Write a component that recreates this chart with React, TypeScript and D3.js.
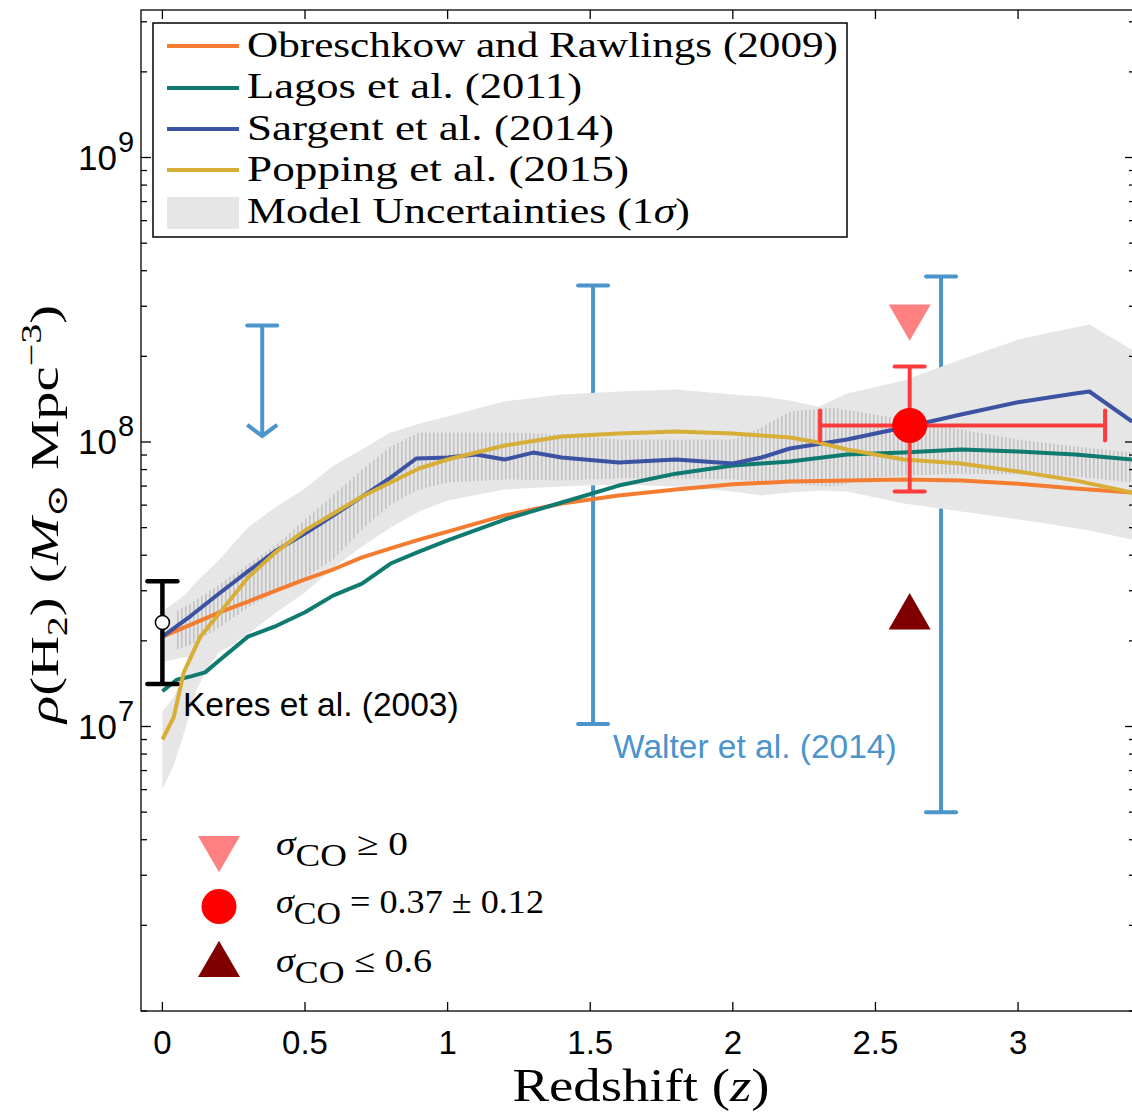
import React, { useEffect, useRef } from "react";
import * as d3 from "d3";

// model curves: redshift and rho(H2) in Msun / Mpc^3
const zObreschkow = [0, 0.1, 0.2, 0.3, 0.4, 0.5, 0.6, 0.7, 0.8, 0.9, 1.0, 1.2, 1.4, 1.6, 1.8, 2.0, 2.2, 2.4, 2.6, 2.8, 3.0, 3.2, 3.4];
const rhoObreschkow = [2.07e7, 2.28e7, 2.52e7, 2.75e7, 3.01e7, 3.29e7, 3.57e7, 3.93e7, 4.23e7, 4.54e7, 4.84e7, 5.52e7, 6.08e7, 6.49e7, 6.81e7, 7.10e7, 7.26e7, 7.33e7, 7.38e7, 7.33e7, 7.14e7, 6.87e7, 6.64e7];

const zLagos = [0, 0.05, 0.1, 0.15, 0.2, 0.3, 0.4, 0.5, 0.6, 0.7, 0.8, 0.9, 1.0, 1.2, 1.4, 1.6, 1.8, 2.0, 2.2, 2.4, 2.6, 2.8, 3.0, 3.2, 3.4];
const rhoLagos = [1.33e7, 1.46e7, 1.5e7, 1.55e7, 1.71e7, 2.07e7, 2.26e7, 2.52e7, 2.89e7, 3.18e7, 3.74e7, 4.12e7, 4.51e7, 5.34e7, 6.13e7, 7.03e7, 7.74e7, 8.27e7, 8.54e7, 9.04e7, 9.18e7, 9.41e7, 9.26e7, 9.04e7, 8.68e7];

const zSargent = [0, 0.1, 0.2, 0.3, 0.4, 0.5, 0.6, 0.7, 0.8, 0.89, 1.0, 1.1, 1.2, 1.3, 1.4, 1.6, 1.8, 2.0, 2.1, 2.2, 2.4, 2.6, 2.8, 3.0, 3.2, 3.25, 3.4];
const rhoSargent = [2.07e7, 2.45e7, 2.94e7, 3.51e7, 4.16e7, 4.77e7, 5.52e7, 6.43e7, 7.5e7, 8.75e7, 8.82e7, 9.04e7, 8.68e7, 9.18e7, 8.82e7, 8.47e7, 8.68e7, 8.4e7, 8.82e7, 9.49e7, 1.02e8, 1.125e8, 1.25e8, 1.38e8, 1.48e8, 1.505e8, 1.18e8];

const zPopping = [0, 0.04, 0.075, 0.133, 0.2, 0.3, 0.4, 0.5, 0.6, 0.7, 0.8, 0.9, 1.0, 1.2, 1.4, 1.6, 1.8, 2.0, 2.2, 2.3, 2.4, 2.6, 2.8, 3.0, 3.2, 3.4];
const rhoPopping = [9.0e6, 1.08e7, 1.55e7, 2.07e7, 2.5e7, 3.34e7, 4.12e7, 4.89e7, 5.61e7, 6.43e7, 7.21e7, 8.07e7, 8.68e7, 9.72e7, 1.045e8, 1.072e8, 1.089e8, 1.072e8, 1.037e8, 9.96e7, 9.41e7, 8.68e7, 8.4e7, 7.88e7, 7.33e7, 6.64e7];

// 1 sigma model envelope
const zBand = [0, 0.04, 0.08, 0.12, 0.2, 0.3, 0.4, 0.5, 0.6, 0.7, 0.8, 0.9, 1.0, 1.2, 1.4, 1.6, 1.8, 2.0, 2.1, 2.2, 2.3, 2.4, 2.6, 2.8, 3.0, 3.1, 3.25, 3.4];
const bandHi = [2.54e7, 2.71e7, 2.91e7, 3.23e7, 3.86e7, 5.01e7, 5.93e7, 6.87e7, 8.27e7, 9.41e7, 1.08e8, 1.16e8, 1.23e8, 1.39e8, 1.47e8, 1.505e8, 1.53e8, 1.47e8, 1.445e8, 1.4e8, 1.33e8, 1.48e8, 1.645e8, 1.95e8, 2.29e8, 2.41e8, 2.59e8, 2.11e8];
const bandLo = [1.69e7, 1.72e7, 1.75e7, 1.76e7, 1.83e7, 2.11e7, 2.52e7, 2.96e7, 3.62e7, 4.29e7, 5.01e7, 5.7e7, 6.23e7, 6.81e7, 6.98e7, 7.09e7, 6.98e7, 6.7e7, 6.49e7, 6.64e7, 6.75e7, 6.7e7, 6.08e7, 5.7e7, 5.34e7, 5.17e7, 4.89e7, 4.54e7];
const zBandLowZ = [0, 0.04, 0.08, 0.12, 0.16, 0.2, 0.26];
const bandLowZHi = [1.13e7, 1.27e7, 1.56e7, 1.94e7, 2.23e7, 2.54e7, 2.8e7];
const bandLowZLo = [6.0e6, 7.35e6, 9.76e6, 1.35e7, 1.61e7, 1.83e7, 1.96e7];

// hatched inner range
const zHatch = [0.05, 0.1, 0.2, 0.3, 0.4, 0.5, 0.6, 0.7, 0.8, 0.9, 1.0, 1.2, 1.4, 1.6, 1.8, 2.0, 2.1, 2.2, 2.35, 2.5, 2.6, 2.8, 3.0, 3.2, 3.4];
const hatchHi = [2.54e7, 2.71e7, 3.16e7, 3.71e7, 4.36e7, 5.34e7, 6.54e7, 8.0e7, 9.64e7, 1.08e8, 1.08e8, 1.08e8, 1.063e8, 1.02e8, 1.02e8, 1.02e8, 1.125e8, 1.28e8, 1.32e8, 1.25e8, 1.2e8, 1.107e8, 1.02e8, 9.64e7, 9.18e7];
const hatchLo = [1.87e7, 1.94e7, 2.23e7, 2.62e7, 2.98e7, 3.34e7, 3.86e7, 4.93e7, 6.03e7, 6.81e7, 7.21e7, 7.38e7, 7.33e7, 7.44e7, 7.44e7, 7.38e7, 7.26e7, 7.15e7, 6.98e7, 7.5e7, 7.62e7, 7.74e7, 7.69e7, 7.56e7, 7.21e7];

// observations
const keresZ = [0];
const keresRho = [2.32e7];
const keresLo = [1.41e7];
const keresHi = [3.24e7];
const walterZ = [1.51, 2.73];
const walterLo = [1.02e7, 5.0e6];
const walterHi = [3.55e8, 3.82e8];
const limitZ = [0.35];
const limitRho = [2.57e8];
const limitTip = [1.05e8];
const thisZ = [2.62];
const thisZLo = [2.306];
const thisZHi = [3.305];
const thisRho = [1.143e8];
const thisRhoLo = [6.7e7];
const thisRhoHi = [1.842e8];
const upperRho = [2.76e8];
const lowerRho = [2.42e7];

const xTicks = [0, 0.5, 1, 1.5, 2, 2.5, 3];
const yMajor = [1e7, 1e8, 1e9];

const modelNames = ["Obreschkow and Rawlings (2009)", "Lagos et al. (2011)", "Sargent et al. (2014)", "Popping et al. (2015)"];
const modelColors = ["#f47c30", "#0f7b70", "#3c52a3", "#d6ae38"];

type Part = { t: string; italic?: boolean; shift?: number; size?: number };

const rich = (parent: any, x: number, y: number, parts: Part[], o: any) => {
  const t = parent
    .append("text")
    .attr("x", x)
    .attr("y", y)
    .attr("font-family", o.family)
    .attr("font-size", o.size)
    .attr("fill", o.fill || "black")
    .attr("text-anchor", o.anchor || "start");
  if (o.len) t.attr("textLength", o.len).attr("lengthAdjust", "spacingAndGlyphs");
  let cur = 0;
  parts.forEach((p) => {
    const shift = p.shift || 0;
    const ts = t.append("tspan").attr("dy", shift - cur).text(p.t);
    cur = shift;
    if (p.italic) ts.attr("font-style", "italic");
    if (p.size) ts.attr("font-size", p.size);
  });
  return t;
};

const SERIF = "'Liberation Serif', 'DejaVu Serif', serif";
const SANS = "'Liberation Sans', Arial, sans-serif";

const App = () => {
  const ref = useRef<SVGSVGElement>(null);

  useEffect(() => {
    const svg = d3.select(ref.current);
    svg.selectAll("*").remove();

    const left = 141, right = 1135, top = 10, bottom = 1011;
    const x = d3.scaleLinear().domain([-0.075, 3.41]).range([left, right]);
    const y = d3.scaleLog().domain([1e6, 3.3e9]).range([bottom, top]);

    const defs = svg.append("defs");
    defs.append("clipPath").attr("id", "plotclip")
      .append("rect").attr("x", left).attr("y", top).attr("width", right - left).attr("height", bottom - top);
    const pat = defs.append("pattern").attr("id", "vhatch")
      .attr("patternUnits", "userSpaceOnUse").attr("width", 4).attr("height", 10);
    pat.append("rect").attr("x", 1).attr("y", 0).attr("width", 1.6).attr("height", 10).attr("fill", "#c2c2c2");

    const plot = svg.append("g").attr("clip-path", "url(#plotclip)");

    // Walter et al. bars sit under the envelope
    const blue = "#4b94cc";
    walterZ.forEach((z, i) => {
      const cx = x(z);
      plot.append("line").attr("x1", cx).attr("x2", cx).attr("y1", y(walterLo[i])).attr("y2", y(walterHi[i]))
        .attr("stroke", blue).attr("stroke-width", 4);
      [walterLo[i], walterHi[i]].forEach((v) => {
        plot.append("line").attr("x1", cx - 15).attr("x2", cx + 15).attr("y1", y(v)).attr("y2", y(v))
          .attr("stroke", blue).attr("stroke-width", 4).attr("stroke-linecap", "round");
      });
    });

    const area = d3.area<[number, number, number]>()
      .x((d) => x(d[0])).y0((d) => y(d[1])).y1((d) => y(d[2]));
    plot.append("path").datum(d3.zip(zBand, bandLo, bandHi) as any).attr("d", area as any).attr("fill", "#e6e6e6");
    plot.append("path").datum(d3.zip(zBandLowZ, bandLowZLo, bandLowZHi) as any).attr("d", area as any).attr("fill", "#e6e6e6");
    plot.append("path").datum(d3.zip(zHatch, hatchLo, hatchHi) as any).attr("d", area as any).attr("fill", "url(#vhatch)");

    const line = d3.line<[number, number]>().x((d) => x(d[0])).y((d) => y(d[1]));
    const curves = [
      [zObreschkow, rhoObreschkow],
      [zLagos, rhoLagos],
      [zSargent, rhoSargent],
      [zPopping, rhoPopping],
    ];
    curves.forEach(([zs, rs], i) => {
      plot.append("path").datum(d3.zip(zs, rs) as any).attr("d", line as any)
        .attr("fill", "none").attr("stroke", modelColors[i]).attr("stroke-width", 4).attr("stroke-linejoin", "round");
    });

    // upper limit arrow
    limitZ.forEach((z, i) => {
      const cx = x(z), y0 = y(limitRho[i]), y1 = y(limitTip[i]);
      plot.append("line").attr("x1", cx).attr("x2", cx).attr("y1", y0).attr("y2", y1).attr("stroke", blue).attr("stroke-width", 4);
      plot.append("line").attr("x1", cx - 15).attr("x2", cx + 15).attr("y1", y0).attr("y2", y0)
        .attr("stroke", blue).attr("stroke-width", 4).attr("stroke-linecap", "round");
      plot.append("path").attr("d", `M${cx - 15},${y1 - 11}L${cx},${y1}L${cx + 15},${y1 - 11}`)
        .attr("fill", "none").attr("stroke", blue).attr("stroke-width", 4);
    });

    // Keres et al.
    keresZ.forEach((z, i) => {
      const cx = x(z);
      plot.append("line").attr("x1", cx).attr("x2", cx).attr("y1", y(keresLo[i])).attr("y2", y(keresHi[i]))
        .attr("stroke", "black").attr("stroke-width", 4.5);
      [keresLo[i], keresHi[i]].forEach((v) => {
        plot.append("line").attr("x1", cx - 15).attr("x2", cx + 15).attr("y1", y(v)).attr("y2", y(v))
          .attr("stroke", "black").attr("stroke-width", 4.5).attr("stroke-linecap", "round");
      });
      plot.append("circle").attr("cx", cx).attr("cy", y(keresRho[i])).attr("r", 7)
        .attr("fill", "white").attr("stroke", "black").attr("stroke-width", 1.5);
    });

    // this work
    const red = "#ff3b3b";
    const tri = d3.symbol().type(d3.symbolTriangle).size(763);
    thisZ.forEach((z, i) => {
      const cx = x(z), cy = y(thisRho[i]);
      plot.append("line").attr("x1", cx).attr("x2", cx).attr("y1", y(thisRhoLo[i])).attr("y2", y(thisRhoHi[i]))
        .attr("stroke", red).attr("stroke-width", 4);
      [thisRhoLo[i], thisRhoHi[i]].forEach((v) => {
        plot.append("line").attr("x1", cx - 15).attr("x2", cx + 15).attr("y1", y(v)).attr("y2", y(v))
          .attr("stroke", red).attr("stroke-width", 4).attr("stroke-linecap", "round");
      });
      plot.append("line").attr("x1", x(thisZLo[i])).attr("x2", x(thisZHi[i])).attr("y1", cy).attr("y2", cy)
        .attr("stroke", red).attr("stroke-width", 4);
      [thisZLo[i], thisZHi[i]].forEach((v) => {
        plot.append("line").attr("x1", x(v)).attr("x2", x(v)).attr("y1", cy - 15).attr("y2", cy + 15)
          .attr("stroke", red).attr("stroke-width", 4).attr("stroke-linecap", "round");
      });
      plot.append("circle").attr("cx", cx).attr("cy", cy).attr("r", 17.5).attr("fill", "#ff0000");
      plot.append("path").attr("d", tri as any).attr("fill", "#ff8080")
        .attr("transform", `translate(${cx},${y(upperRho[i])}) rotate(180)`);
      plot.append("path").attr("d", tri as any).attr("fill", "#800000")
        .attr("transform", `translate(${cx},${y(lowerRho[i])})`);
    });

    // frame and ticks
    const ax = svg.append("g").attr("stroke", "black").attr("stroke-width", 1.3);
    ax.append("rect").attr("x", left).attr("y", top).attr("width", right - left).attr("height", bottom - top).attr("fill", "none");
    xTicks.forEach((t) => {
      ax.append("line").attr("x1", x(t)).attr("x2", x(t)).attr("y1", bottom).attr("y2", bottom - 9);
      ax.append("line").attr("x1", x(t)).attr("x2", x(t)).attr("y1", top).attr("y2", top + 9);
    });
    const minor: number[] = [];
    for (let e = 6; e <= 9; e++) for (let m = 1; m <= 9; m++) {
      const v = m * Math.pow(10, e);
      if (v <= 3.3e9) minor.push(v);
    }
    minor.forEach((v) => {
      const len = yMajor.includes(v) ? 10 : 6;
      ax.append("line").attr("x1", left).attr("x2", left + len).attr("y1", y(v)).attr("y2", y(v));
      ax.append("line").attr("x1", right).attr("x2", right - len).attr("y1", y(v)).attr("y2", y(v));
    });

    xTicks.forEach((t) => {
      svg.append("text").attr("x", x(t)).attr("y", 1054).attr("text-anchor", "middle")
        .attr("font-family", SANS).attr("font-size", 33).text(String(t));
    });
    yMajor.forEach((v) => {
      const ty = y(v);
      svg.append("text").attr("x", 117).attr("y", ty + 12).attr("text-anchor", "end")
        .attr("font-family", SANS).attr("font-size", 35).text("10");
      svg.append("text").attr("x", 118).attr("y", ty - 6)
        .attr("font-family", SANS).attr("font-size", 29).text(String(Math.round(Math.log10(v))));
    });

    // axis titles
    rich(svg, 641, 1101, [{ t: "Redshift (" }, { t: "z", italic: true }, { t: ")" }],
      { family: SERIF, size: 46, anchor: "middle", len: 257 });
    const yt = svg.append("g").attr("transform", "translate(58,514) rotate(-90)");
    rich(yt, 0, 0, [
      { t: "ρ", italic: true },
      { t: "(H" },
      { t: "2", shift: 9, size: 29 },
      { t: ")  (" },
      { t: "M", italic: true },
      { t: "⊙", shift: 9, size: 29 },
      { t: "  Mpc" },
      { t: "−3", shift: -17, size: 29 },
      { t: ")" },
    ], { family: SERIF, size: 41, anchor: "middle", len: 418 });

    // annotations
    svg.append("text").attr("x", 183).attr("y", 716).attr("font-family", SANS).attr("font-size", 33.5).text("Keres et al. (2003)");
    svg.append("text").attr("x", 613).attr("y", 758).attr("font-family", SANS).attr("font-size", 33.5)
      .attr("fill", blue).text("Walter et al. (2014)");

    // model legend
    const lg = svg.append("g");
    lg.append("rect").attr("x", 153).attr("y", 23).attr("width", 694).attr("height", 214)
      .attr("fill", "white").attr("stroke", "black").attr("stroke-width", 1.5);
    const rowY = [46, 88, 129, 170];
    const textY = [57, 98, 140, 181, 223];
    const textLen = [591, 335, 367, 382, 443];
    modelNames.forEach((n, i) => {
      lg.append("line").attr("x1", 167).attr("x2", 239).attr("y1", rowY[i]).attr("y2", rowY[i])
        .attr("stroke", modelColors[i]).attr("stroke-width", 4);
      rich(lg, 247, textY[i], [{ t: n }], { family: SERIF, size: 36, len: textLen[i] });
    });
    lg.append("rect").attr("x", 167).attr("y", 197).attr("width", 72).attr("height", 32).attr("fill", "#e6e6e6");
    rich(lg, 247, textY[4], [{ t: "Model Uncertainties (1" }, { t: "σ", italic: true }, { t: ")" }],
      { family: SERIF, size: 36, len: textLen[4] });

    // marker legend
    const mk = svg.append("g");
    mk.append("path").attr("d", tri as any).attr("fill", "#ff8080").attr("transform", "translate(219,848) rotate(180)");
    mk.append("circle").attr("cx", 219).attr("cy", 906.5).attr("r", 17.5).attr("fill", "#ff0000");
    mk.append("path").attr("d", tri as any).attr("fill", "#800000").attr("transform", "translate(219,965)");
    const sig = (yy: number, rest: string, len: number) =>
      rich(mk, 276, yy, [
        { t: "σ", italic: true },
        { t: "CO", shift: 11, size: 31 },
        { t: rest, shift: 0 },
      ], { family: SERIF, size: 33, len });
    sig(855, " ≥ 0", 132);
    sig(913, " = 0.37 ± 0.12", 268);
    sig(972, " ≤ 0.6", 156);
  }, []);

  return (
    <div style={{ position: "absolute", left: 0, top: 0 }}>
      <svg ref={ref} width={1132} height={1112} style={{ display: "block", background: "white" }} />
    </div>
  );
};

export default App;
